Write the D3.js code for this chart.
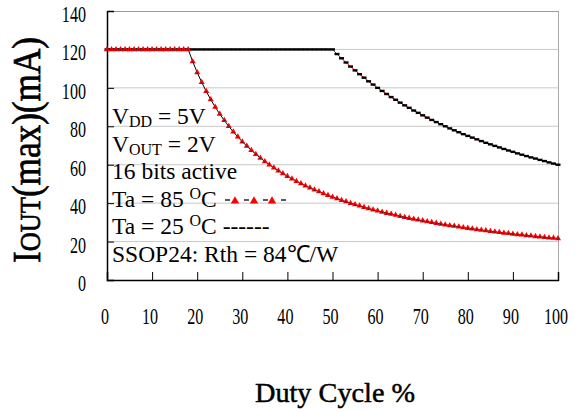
<!DOCTYPE html>
<html><head><meta charset="utf-8">
<script src="https://cdn.jsdelivr.net/npm/d3@7"></script>
<style>body{margin:0;background:#fff}svg{display:block}</style>
</head><body><svg id="c" width="582" height="412"></svg>
<script>
const duty = [0,1,2,3,4,5,6,7,8,9,10,11,12,13,14,15,16,17,18,19,20,21,22,23,24,25,26,27,28,29,30,31,32,33,34,35,36,37,38,39,40,41,42,43,44,45,46,47,48,49,50,51,52,53,54,55,56,57,58,59,60,61,62,63,64,65,66,67,68,69,70,71,72,73,74,75,76,77,78,79,80,81,82,83,84,85,86,87,88,89,90,91,92,93,94,95,96,97,98,99,100];
const iout85 = [120,120,120,120,120,120,120,120,120,120,120,120,120,120,120,120,120,120,120,
  113.7,108,102.9,98.2,93.9,90,86.4,83.1,80,77.1,74.5,72,69.7,67.5,65.5,63.5,61.7,60,58.4,56.8,55.4,
  54,52.7,51.4,50.2,49.1,48,47,46,45,44.1,43.2,42.4,41.5,40.8,40,39.3,38.6,37.9,37.2,36.6,
  36,35.4,34.8,34.3,33.8,33.2,32.7,32.2,31.8,31.3,30.9,30.4,30,29.6,29.2,28.8,28.4,28.1,27.7,27.3,
  27,26.7,26.3,26,25.7,25.4,25.1,24.8,24.5,24.3,24,23.7,23.5,23.2,23,22.7,22.5,22.3,22,21.8,21.6];
const iout25 = [120,120,120,120,120,120,120,120,120,120,120,120,120,120,120,120,120,120,120,120,
  120,120,120,120,120,120,120,120,120,120,120,120,120,120,120,120,120,120,120,120,
  120,120,120,120,120,120,120,120,120,120,120,
  117.6,115.4,113.2,111.1,109.1,107.1,105.3,103.4,101.7,100,98.4,96.8,95.2,93.8,92.3,90.9,89.6,88.2,87,
  85.7,84.5,83.3,82.2,81.1,80,78.9,77.9,76.9,75.9,75,74.1,73.2,72.3,71.4,70.6,69.8,69,68.2,67.4,
  66.7,65.9,65.2,64.5,63.8,63.2,62.5,61.9,61.2,60.6,60];
const yTicks = [0,20,40,60,80,100,120,140];
const xTicks = [0,10,20,30,40,50,60,70,80,90,100];
const legendLines = ["16 bits active"];

const svg = d3.select("#c");
const L = 107, R = 558, T = 11, B = 280;
const x = d3.scaleLinear().domain([0,100]).range([L,R]);
const y = d3.scaleLinear().domain([0,140]).range([B,T]);
const serif = "'Liberation Serif','Times New Roman',serif";

// gridlines
svg.append("g").selectAll("line").data(yTicks.filter(v=>v>0 && v<140)).join("line")
  .attr("x1",L).attr("x2",R).attr("y1",d=>y(d)).attr("y2",d=>y(d))
  .attr("stroke","#c8c8c8").attr("stroke-width",1);
// top & right border
svg.append("line").attr("x1",L).attr("x2",R).attr("y1",T+0.5).attr("y2",T+0.5).attr("stroke","#999");
svg.append("line").attr("x1",R+0.5).attr("x2",R+0.5).attr("y1",T).attr("y2",B).attr("stroke","#aaa");

// axes
const yAxis = d3.axisLeft(y).tickValues(yTicks).tickSize(-7).tickFormat("");
const gy = svg.append("g").attr("transform",`translate(${L},0)`).call(yAxis);
gy.select(".domain").attr("stroke","#000").attr("stroke-width",1.5);
gy.selectAll(".tick line").attr("stroke","#000");
const xAxis = d3.axisBottom(x).tickValues(xTicks).tickSize(-8).tickFormat("");
const gx = svg.append("g").attr("transform",`translate(0,${B})`).call(xAxis);
gx.select(".domain").attr("stroke","#000").attr("stroke-width",1.5);
gx.selectAll(".tick line").attr("stroke","#000");

// tick labels
svg.append("g").selectAll("text").data(yTicks).join("text")
  .attr("transform",d=>`translate(86,${y(d)+11}) scale(0.7,1)`)
  .attr("text-anchor","end").attr("font-family",serif).attr("font-size",23).text(d=>d);
svg.append("g").selectAll("text").data(xTicks).join("text")
  .attr("transform",d=>`translate(${x(d)-2},324) scale(0.7,1)`)
  .attr("text-anchor","middle").attr("font-family",serif).attr("font-size",23).text(d=>d);

// axis titles
svg.append("text").attr("x",335).attr("y",402).attr("text-anchor","middle")
  .attr("font-family",serif).attr("font-size",28).attr("stroke","#000").attr("stroke-width",0.5)
  .attr("textLength",160).attr("lengthAdjust","spacingAndGlyphs").text("Duty Cycle %");
const yt = svg.append("text").attr("transform","translate(40,150) rotate(-90)").attr("text-anchor","middle")
  .attr("font-family",serif).attr("font-size",40).attr("stroke","#000").attr("stroke-width",0.7)
  .attr("textLength",226).attr("lengthAdjust","spacingAndGlyphs");
yt.append("tspan").text("I");
yt.append("tspan").attr("font-size",30).text("OUT");
yt.append("tspan").text("(max)(mA)");

// curves
const line = d3.line().x((d,i)=>x(duty[i])).y(d=>y(d));
svg.append("path").datum(iout25).attr("d",line).attr("fill","none").attr("stroke","#e00").attr("stroke-width",1);
svg.append("g").selectAll("rect").data(iout25).join("rect")
  .attr("x",(d,i)=>x(duty[i])-2.5).attr("y",d=>y(d)-1.2).attr("width",5).attr("height",2.4).attr("fill","#000");
svg.append("path").datum(iout85).attr("d",line).attr("fill","none").attr("stroke","#000").attr("stroke-width",1);
const tri = d3.symbol().type(d3.symbolTriangle).size(16);
svg.append("g").selectAll("path").data(iout85).join("path")
  .attr("transform",(d,i)=>`translate(${x(duty[i])},${y(d)})`).attr("d",tri).attr("fill","#f00");
svg.append("g").selectAll("circle").data(iout85).join("circle")
  .attr("cx",(d,i)=>x(duty[i])).attr("cy",d=>y(d)+0.5).attr("r",0.8).attr("fill","#224");

// legend text
const lg = svg.append("g").attr("font-family",serif).attr("font-size",23.5).attr("fill","#000");
let t = lg.append("text").attr("x",112).attr("y",124);
t.append("tspan").text("V"); t.append("tspan").attr("font-size",16).attr("dy",3).text("DD");
t.append("tspan").attr("dy",-3).text(" = 5V");
t = lg.append("text").attr("x",112).attr("y",152);
t.append("tspan").text("V"); t.append("tspan").attr("font-size",16).attr("dy",3).text("OUT");
t.append("tspan").attr("dy",-3).text(" = 2V");
lg.append("text").attr("x",112).attr("y",179).text(legendLines[0]);
t = lg.append("text").attr("x",112).attr("y",207);
t.append("tspan").text("Ta = 85 "); t.append("tspan").attr("font-size",16).attr("dy",-8).text("O");
t.append("tspan").attr("dy",8).text("C");
t = lg.append("text").attr("x",112).attr("y",234);
t.append("tspan").text("Ta = 25 "); t.append("tspan").attr("font-size",16).attr("dy",-8).text("O");
t.append("tspan").attr("dy",8).text("C ------");
lg.append("text").attr("x",112).attr("y",262).text("SSOP24: Rth = 84\u2103/W");
// legend marker for 85
[225,244,263,281].forEach(xx=>svg.append("line").attr("x1",xx).attr("x2",xx+5).attr("y1",200).attr("y2",200).attr("stroke","#000").attr("stroke-width",1.3));
[235,254,272].forEach(xx=>svg.append("path").attr("transform",`translate(${xx},201)`).attr("d",d3.symbol().type(d3.symbolTriangle).size(30)()).attr("fill","#f00"));
</script></body></html>
